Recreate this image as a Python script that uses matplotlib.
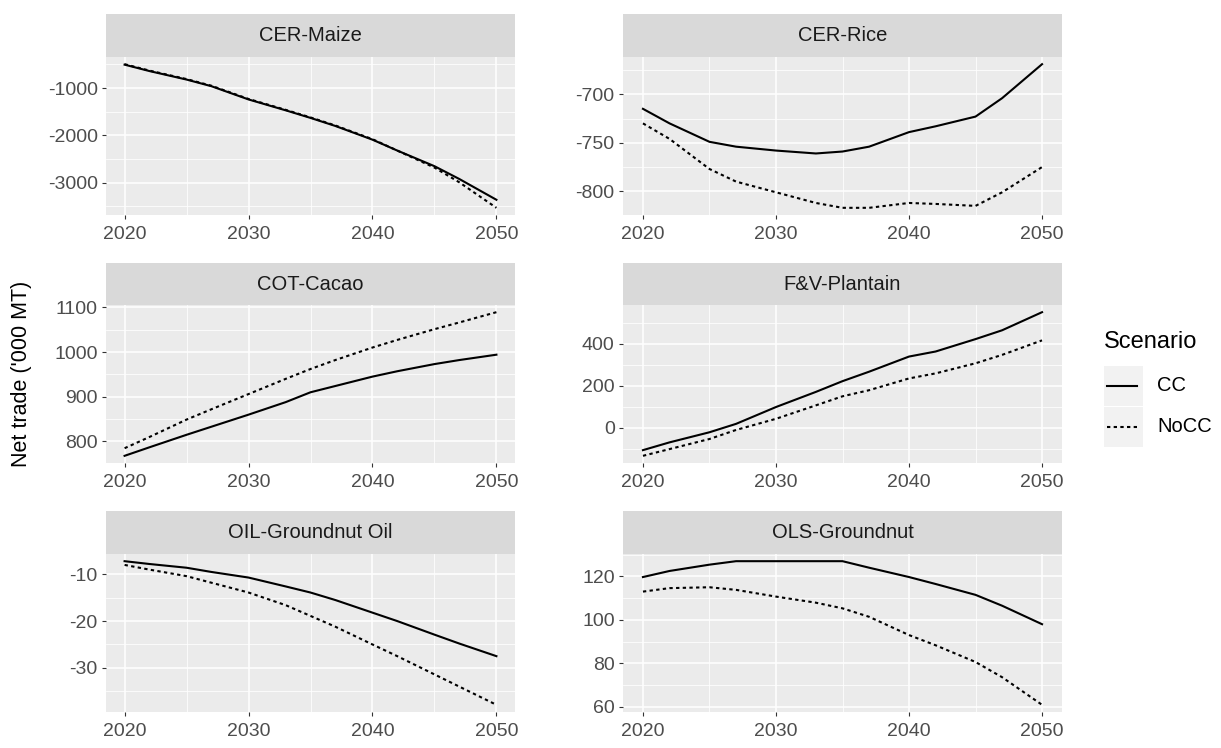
import matplotlib

matplotlib.use("Agg")

import matplotlib.pyplot as plt
from matplotlib.lines import Line2D
from matplotlib.ticker import MultipleLocator

plt.rcParams["font.family"] = ["Liberation Sans", "DejaVu Sans"]
plt.rcParams["axes.unicode_minus"] = False

# data
years = [2020, 2022, 2025, 2027, 2030, 2033, 2035, 2037, 2040, 2042, 2045, 2047, 2050]

titles = ["CER-Maize", "CER-Rice", "COT-Cacao", "F&V-Plantain",
          "OIL-Groundnut Oil", "OLS-Groundnut"]

maize_cc = [-505, -640, -820, -960, -1240, -1470, -1630, -1800, -2090, -2320, -2650, -2920, -3360]
maize_nocc = [-495, -630, -810, -950, -1230, -1460, -1620, -1790, -2080, -2320, -2680, -2990, -3530]

rice_cc = [-715, -730, -749, -754, -758, -761, -759, -754, -739, -733, -723, -704, -669]
rice_nocc = [-730, -746, -777, -790, -801, -812, -817, -817, -812, -813, -815, -801, -775]

cacao_cc = [768, 787, 815, 833, 860, 888, 910, 924, 945, 957, 973, 982, 994]
cacao_nocc = [785, 810, 849, 872, 906, 940, 962, 982, 1010, 1027, 1051, 1066, 1089]

plantain_cc = [-106, -69, -21, 19, 99, 171, 222, 267, 339, 363, 422, 464, 550]
plantain_nocc = [-133, -101, -53, -10, 43, 107, 150, 179, 235, 259, 307, 347, 416]

gnoil_cc = [-7.2, -7.8, -8.6, -9.5, -10.7, -12.6, -13.9, -15.5, -18.2, -20.0, -22.9, -24.8, -27.5]
gnoil_nocc = [-8.0, -9.0, -10.4, -11.8, -13.9, -16.6, -18.9, -21.2, -25.0, -27.5, -31.4, -34.0, -37.9]

gnut_cc = [119.7, 122.5, 125.4, 127, 127, 127, 127, 124, 119.7, 116.5, 111.5, 106.5, 98]
gnut_nocc = [113, 114.6, 115, 113.8, 110.7, 107.9, 105.3, 101.4, 93, 88.3, 80.6, 73.6, 60.9]

cc_series = [maize_cc, rice_cc, cacao_cc, plantain_cc, gnoil_cc, gnut_cc]
nocc_series = [maize_nocc, rice_nocc, cacao_nocc, plantain_nocc, gnoil_nocc, gnut_nocc]

y_ticks = [
    [-3000, -2000, -1000],
    [-800, -750, -700],
    [800, 900, 1000, 1100],
    [0, 200, 400],
    [-30, -20, -10],
    [60, 80, 100, 120],
]
x_ticks = [2020, 2030, 2040, 2050]

# layout in pixels of the reference
W, H = 1221, 748
cols = [(106, 515), (623, 1062)]
rows = [(14, 57, 215), (263, 305, 463), (511, 554, 712)]

DOTTED = (0, (1.6, 1.6))


def box(x0, x1, y0, y1):
    return [x0 / W, 1 - y1 / H, (x1 - x0) / W, (y1 - y0) / H]


fig = plt.figure(figsize=(W / 100, H / 100), dpi=100)

for i, title in enumerate(titles):
    x0, x1 = cols[i % 2]
    s0, p0, p1 = rows[i // 2]

    ax = fig.add_axes(box(x0, x1, p0, p1))
    ax.set_facecolor("#EBEBEB")
    for sp in ax.spines.values():
        sp.set_visible(False)

    ax.plot(years, cc_series[i], color="black", lw=1.5)
    ax.plot(years, nocc_series[i], color="black", lw=1.5, linestyle=DOTTED)
    ax.margins(x=0.05, y=0.05)

    ax.set_xticks(x_ticks)
    ax.xaxis.set_minor_locator(MultipleLocator(5))
    ax.set_yticks(y_ticks[i])
    step = y_ticks[i][1] - y_ticks[i][0]
    ax.yaxis.set_minor_locator(MultipleLocator(step / 2))
    ax.set_xlim(2018.5, 2051.5)

    ax.grid(True, which="major", color="white", lw=1.1)
    ax.grid(True, which="minor", color="white", lw=0.55)
    ax.set_axisbelow(True)
    ax.tick_params(which="major", length=3, width=0.8, color="#333333",
                   labelcolor="#4D4D4D", labelsize=14, pad=3)
    ax.tick_params(axis="x", which="major", pad=5)
    ax.tick_params(which="minor", length=0)

    sax = fig.add_axes(box(x0, x1, s0, p0))
    sax.set_facecolor("#D9D9D9")
    sax.set_xticks([])
    sax.set_yticks([])
    for sp in sax.spines.values():
        sp.set_visible(False)
    sax.text(0.5, 0.5, title, ha="center", va="center", fontsize=14.5,
             color="#1A1A1A", transform=sax.transAxes)

fig.text(22 / W, 1 - 374 / H, "Net trade ('000 MT)", rotation=90,
         ha="center", va="center", fontsize=15.5)

# legend
fig.text(1104 / W, 1 - 342 / H, "Scenario", ha="left", va="center", fontsize=17)
legend_items = [("CC", "-"), ("NoCC", DOTTED)]
for k, (label, ls) in enumerate(legend_items):
    top = 366 + k * 41
    kax = fig.add_axes(box(1104, 1143, top, top + 40))
    kax.set_facecolor("#F2F2F2")
    kax.set_xticks([])
    kax.set_yticks([])
    for sp in kax.spines.values():
        sp.set_visible(False)
    kax.add_line(Line2D([0.08, 0.85], [0.5, 0.5], color="black", lw=1.5,
                        linestyle=ls, transform=kax.transAxes))
    fig.text(1157 / W, 1 - (top + 20) / H, label, ha="left", va="center",
             fontsize=14.5)

fig.savefig("out.png", dpi=100)
